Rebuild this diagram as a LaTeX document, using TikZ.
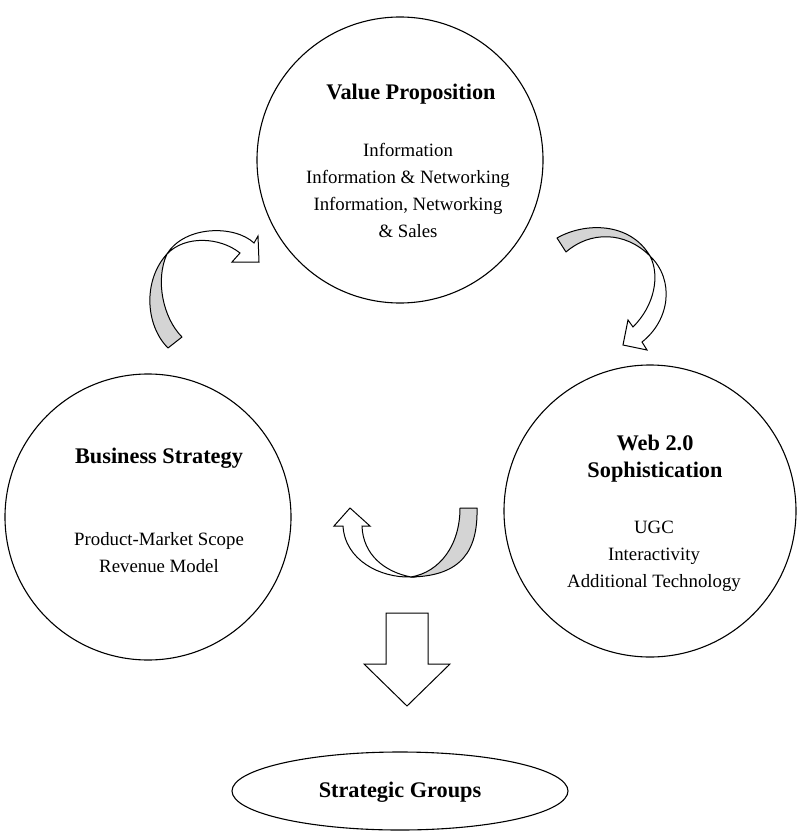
\documentclass[tikz,border=0pt]{standalone}
\usepackage{fontspec}
\setmainfont{Liberation Serif}
\usepackage{tikz}
\usetikzlibrary{shapes.geometric}
\tikzset{
  bubble/.style={circle, draw=black, line width=1.1pt, minimum size=#1, inner sep=0pt},
  bubble/.default=286pt,
  ttl/.style={font=\fontsize{22.3}{27.3}\selectfont\bfseries, align=center, anchor=base, inner sep=0pt},
  body/.style={font=\fontsize{18.8}{26.9}\selectfont, align=center, anchor=base, inner sep=0pt},
  bandgray/.style={draw=black, fill=black!17, line width=1pt, line join=round},
  bandwhite/.style={draw=black, fill=white, line width=1pt, line join=miter},
  blockarr/.style={draw=black, fill=white, line width=1pt},
}
\begin{document}
\begin{tikzpicture}[x=1pt, y=-1pt]
  \useasboundingbox (0,0) rectangle (800,832);
  % circles
  \node[bubble] (vp) at (400,160) {};
  \node[bubble] (bs) at (148,517) {};
  \node[bubble=292pt] (web) at (650,511) {};
  \node[ellipse, draw=black, line width=1.1pt, minimum width=336pt, minimum height=78pt, inner sep=0pt] (sg) at (400,791) {};
  % texts (multi-line nodes sit on their last baseline)
  \node[ttl] (vpT) at (411,99.3) {Value Proposition};
  \node[body] (vpB) at (408,237.5) {Information\\Information \& Networking\\Information, Networking\\\& Sales};
  \node[ttl] (bsT) at (159,463.3) {Business Strategy};
  \node[body] (bsB) at (159,572.7) {Product-Market Scope\\Revenue Model};
  \node[ttl] (webT) at (655,477.3) {Web 2.0\\Sophistication};
  \node[body] (webB) at (654,587.7) {UGC\\Interactivity\\Additional Technology};
  \node[ttl] (sgT) at (400,797) {Strategic Groups};
  % left curved arrow
  \draw[bandgray] (167,254) .. controls (143,280) and (145,325) .. (168,348) -- (182,337)
                  .. controls (163,318) and (155,280) .. (167,254) -- cycle;
  \draw[bandwhite] (167,254) .. controls (185,225) and (235,225) .. (254,243) -- (258,236)
                   -- (259,262) -- (232,262) -- (240,253)
                   .. controls (220,237) and (185,235) .. (167,254) -- cycle;
  % right curved arrow
  \draw[bandgray] (557,238) .. controls (585,222) and (630,222) .. (650,256)
                  .. controls (625,231) and (590,231) .. (566,252) -- cycle;
  \draw[bandwhite] (650,256) .. controls (675,280) and (670,320) .. (642,342) -- (647,350)
                   -- (623,345) -- (628,320) -- (633,327)
                   .. controls (655,305) and (660,275) .. (650,256) -- cycle;
  % bottom curved arrow
  \draw[bandgray] (411,577) .. controls (462,576) and (478,550) .. (477,508) -- (460,508)
                  .. controls (460,545) and (440,572) .. (411,577) -- cycle;
  \draw[bandwhite] (411,577) .. controls (380,578) and (345,560) .. (343,526) -- (334,526)
                   -- (350,508) -- (370,526) -- (362,526)
                   .. controls (363,555) and (385,572) .. (411,577) -- cycle;
  % block arrow down
  \draw[blockarr] (386,613) -- (428,613) -- (428,664) -- (450,664) -- (407,706)
                  -- (364,664) -- (386,664) -- cycle;
\end{tikzpicture}
\end{document}
